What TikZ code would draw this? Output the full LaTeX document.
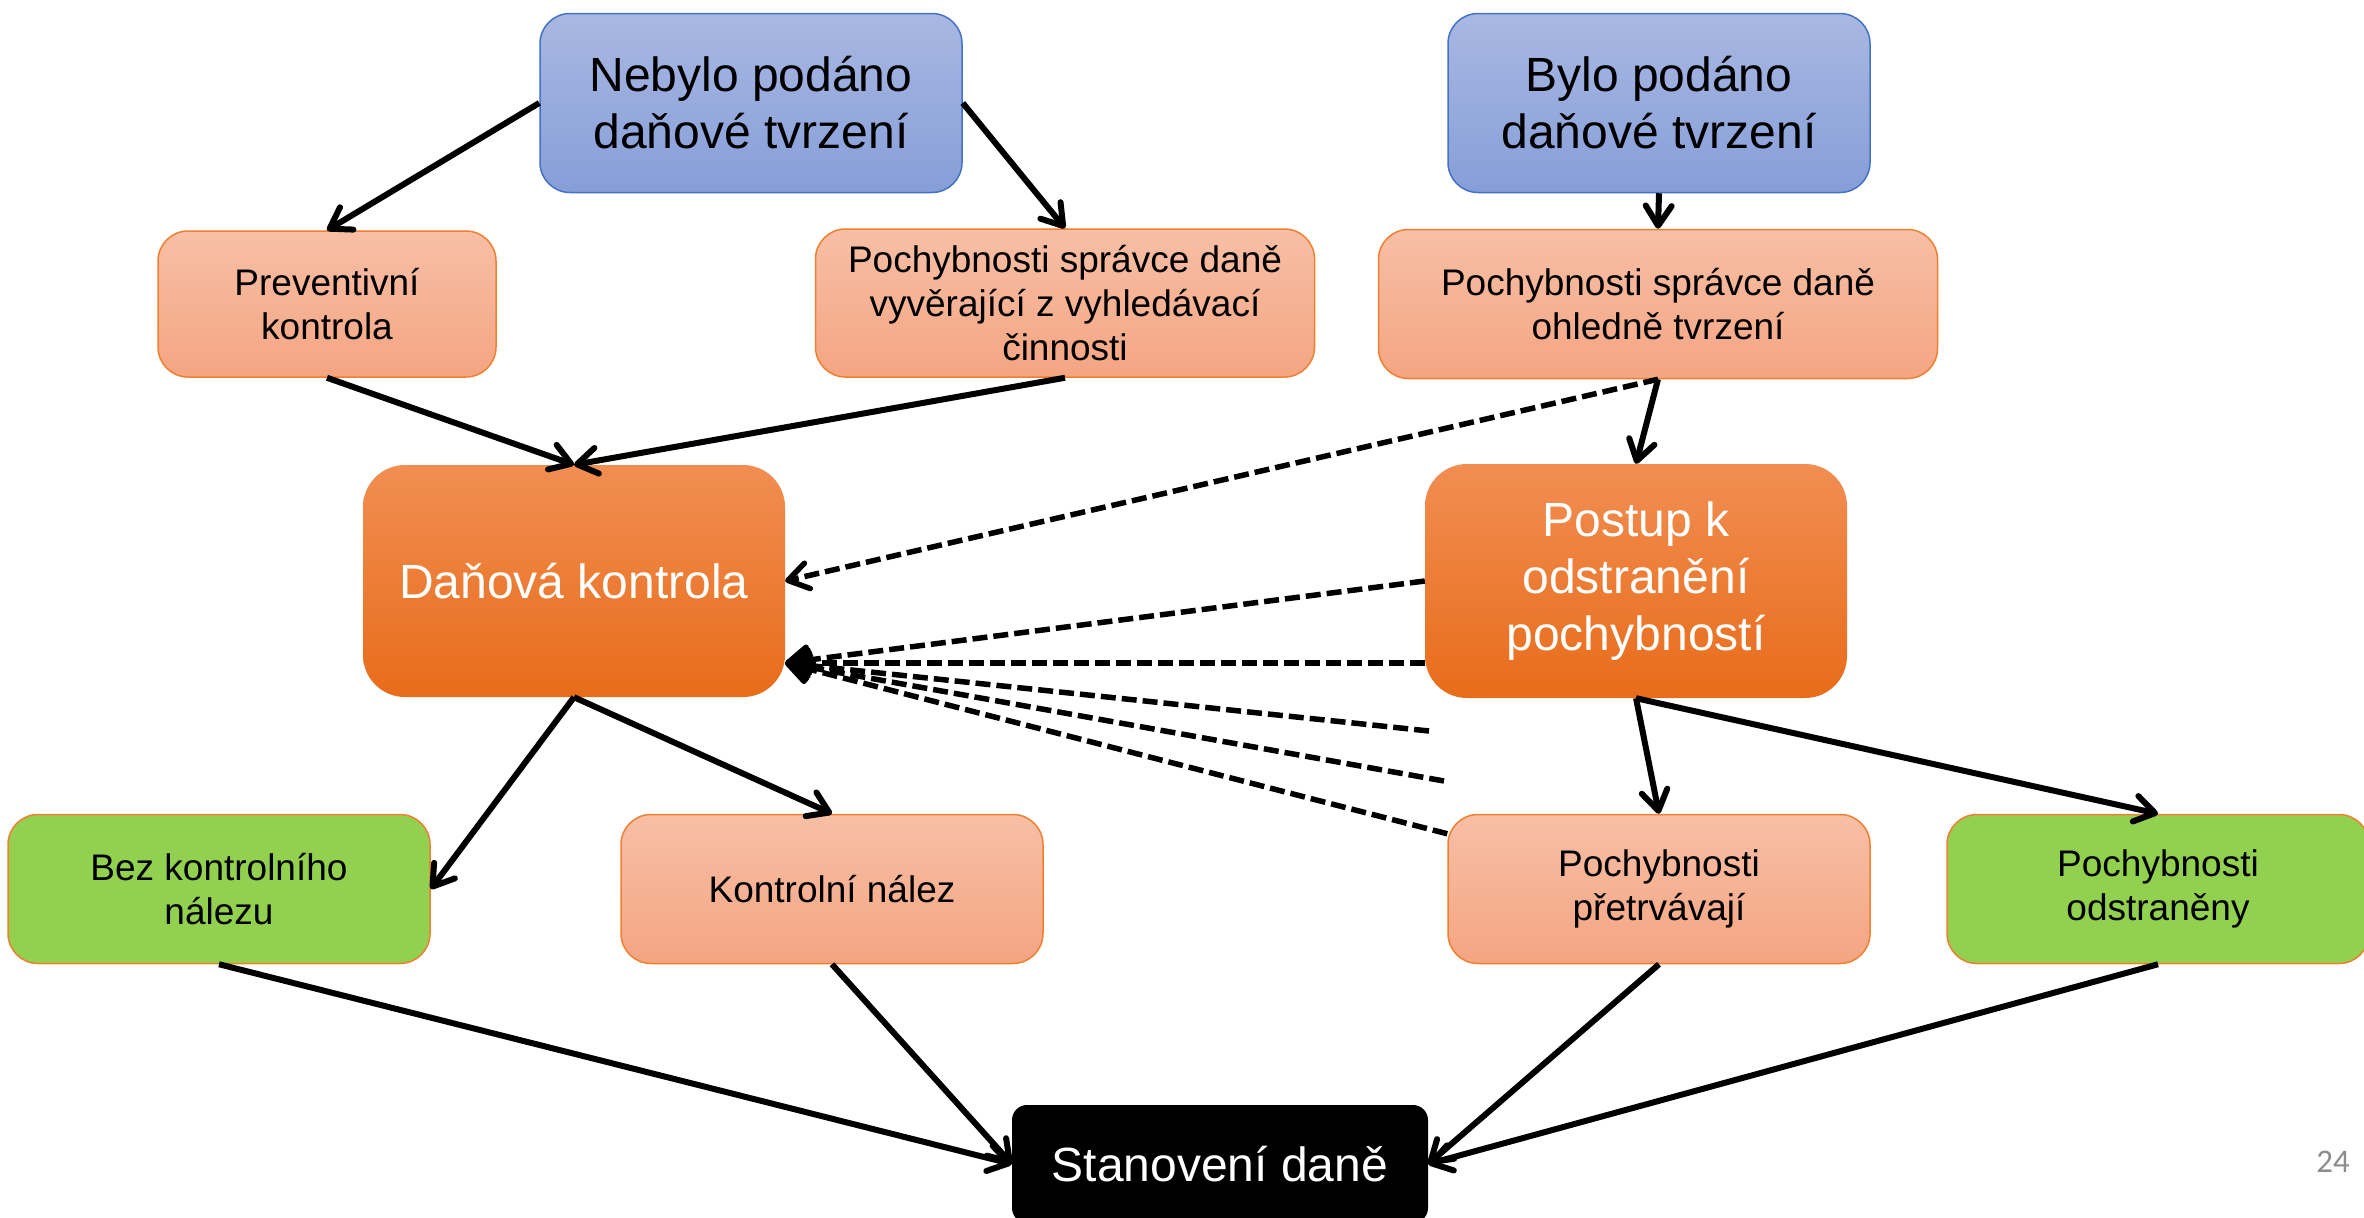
\documentclass[tikz,border=0pt]{standalone}
\usepackage{fontspec}
\setmainfont{Liberation Sans}
\newfontfamily\numfont{Carlito}
\usetikzlibrary{arrows.meta}
\definecolor{blueTop}{RGB}{169,184,226}
\definecolor{blueBot}{RGB}{134,158,216}
\definecolor{blueEdge}{RGB}{68,114,196}
\definecolor{salTop}{RGB}{247,191,166}
\definecolor{salBot}{RGB}{244,165,130}
\definecolor{orEdge}{RGB}{240,128,48}
\definecolor{darkTop}{RGB}{241,142,82}
\definecolor{darkBot}{RGB}{232,108,26}
\definecolor{grn}{RGB}{146,208,80}
\definecolor{pgnum}{RGB}{140,140,140}
\begin{document}
\begin{tikzpicture}[x=1pt,y=-1pt,
  box/.style={rounded corners=30pt, inner sep=0pt, align=center,
    font=\fontsize{37}{44}\selectfont},
  bluebox/.style={box, draw=blueEdge, line width=1.5pt, top color=blueTop, bottom color=blueBot,
    minimum width=422pt, minimum height=179pt, font=\fontsize{48}{57}\selectfont},
  salbox/.style={box, draw=orEdge, line width=1.5pt, top color=salTop, bottom color=salBot},
  darkbox/.style={box, rounded corners=42pt, top color=darkTop, bottom color=darkBot, text=white,
    minimum width=422pt, minimum height=232pt, font=\fontsize{48}{57}\selectfont},
  grnbox/.style={box, draw=orEdge, line width=1.5pt, fill=grn},
  bottombox/.style={minimum width=422pt, minimum height=149pt},
  finalbox/.style={box, rounded corners=15pt, fill=black, text=white,
    minimum width=416pt, minimum height=118pt, font=\fontsize{48}{57}\selectfont},
  arr/.style={line width=6pt, -{Straight Barb[length=20pt,width=26pt,round]}},
  dasharr/.style={line width=5.5pt, dash pattern=on 15pt off 6pt, -{Straight Barb[length=20pt,width=26pt,round]}}
]
\useasboundingbox (0,0) rectangle (2364,1218);
\clip (0,0) rectangle (2364,1218);
\fill[white] (0,0) rectangle (2364,1218);

\node[bluebox] (nebylo) at (751,103) {Nebylo podáno\\daňové tvrzení};
\node[bluebox] (bylo) at (1659,103) {Bylo podáno\\daňové tvrzení};

\node[salbox, minimum width=338pt, minimum height=146pt] (prev) at (327,304) {Preventivní\\kontrola};
\node[salbox, minimum width=499pt, minimum height=148pt] (vyhl) at (1065,303) {Pochybnosti správce daně\\vyvěrající z vyhledávací\\činnosti};
\node[salbox, minimum width=559pt, minimum height=149pt] (ohl) at (1658,304) {Pochybnosti správce daně\\ohledně tvrzení};

\node[darkbox] (dan) at (574,581) {Daňová kontrola};
\node[darkbox, minimum height=234pt] (post) at (1636,581) {Postup k\\odstranění\\pochybností};

\node[grnbox, bottombox] (bez) at (219,889) {Bez kontrolního\\nálezu};
\node[salbox, bottombox] (kon) at (832,889) {Kontrolní nález};
\node[salbox, bottombox] (pret) at (1659,889) {Pochybnosti\\přetrvávají};
\node[grnbox, bottombox] (ods) at (2158,889) {Pochybnosti\\odstraněny};

\node[finalbox] (stan) at (1220,1164) {Stanovení daně};

\node[font=\numfont\fontsize{33}{40}\selectfont, text=pgnum, inner sep=0pt] (pg) at (2333,1162) {24};

% coordinates for the dashed fan
\coordinate (conv) at ([yshift=-82pt]dan.east);
\coordinate (pconv) at (post.west |- conv);
\coordinate (f1) at (1429,731);
\coordinate (f2) at (1444,781);
\coordinate (pr) at ([yshift=-20pt]pret.north west);

% solid arrows
\draw[arr] (nebylo.west) -- (prev.north);
\draw[arr] (nebylo.east) -- (vyhl.north);
\draw[arr] (bylo.south) -- (ohl.north);
\draw[arr] (prev.south) -- (dan.north);
\draw[arr] (vyhl.south) -- (dan.north);
\draw[arr] (ohl.south) -- (post.north);
\draw[arr] (dan.south) -- (bez.east);
\draw[arr] (dan.south) -- (kon.north);
\draw[arr] (post.south) -- (pret.north);
\draw[arr] (post.south) -- (ods.north);
\draw[arr] (bez.south) -- (stan.west);
\draw[arr] (kon.south) -- (stan.west);
\draw[arr] (pret.south) -- (stan.east);
\draw[arr] (ods.south) -- (stan.east);

% dashed arrows
\draw[dasharr] (ohl.south) -- (dan.east);
\draw[dasharr] (post.west) -- (conv);
\draw[dasharr] (pconv) -- (conv);
\draw[dasharr] (f1) -- (conv);
\draw[dasharr] (f2) -- (conv);
\draw[dasharr] (pr) -- (conv);
\end{tikzpicture}
\end{document}
